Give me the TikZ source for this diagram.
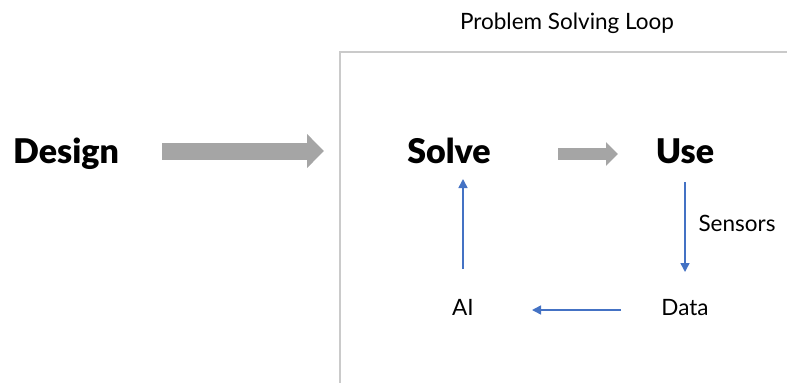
\documentclass[tikz,border=0pt]{standalone}
\usepackage{fontspec}
\setmainfont{Lato}[BoldFont={* Black}]
\usepackage{tikz}
\usetikzlibrary{arrows.meta}
\usepackage{xcolor}
\definecolor{arrowgray}{HTML}{A5A5A5}
\definecolor{loopblue}{HTML}{4472C4}
\definecolor{boxgray}{HTML}{CACACA}

\begin{document}
\begin{tikzpicture}[x=1pt, y=-1pt,
    stage/.style={font=\fontsize{34}{40}\selectfont\bfseries, inner sep=0pt, text height=24pt, text depth=0pt},
    label/.style={font=\fontsize{22.5}{26}\selectfont, inner sep=0pt, text height=15pt, text depth=0pt},
    bigarrow/.style={arrowgray, line width=17pt, -{Triangle[length=17pt, width=33pt]}},
    smallarrow/.style={arrowgray, line width=12pt, -{Triangle[length=12pt, width=23pt]}},
    flow/.style={loopblue, line width=1.5pt, -{Triangle[length=9pt, width=9pt]}}]
  \useasboundingbox (0,0) rectangle (787,383);

  % Draw the loop frame
  \draw[boxgray, line width=2pt] (787,52) -- (340,52) -- (340,383);
  \node (title) at (567,22) [label] {Problem Solving Loop};

  % Place the stages
  \node (design) at (66,151) [stage] {Design};
  \node (solve) at (449,151) [stage] {Solve};
  \node (use) at (685,151) [stage] {Use};

  % Place the loop labels
  \node (ai) at (463,308) [label] {AI};
  \node (data) at (685,308) [label] {Data};
  \node (sensors) at (737,224) [label] {Sensors};

  % Draw the gray arrows
  \draw[bigarrow, shorten <=96pt, shorten >=125pt] (design.center) -- (solve.center);
  \draw[smallarrow, shorten <=109pt, shorten >=67pt] ([yshift=-3pt]solve.center) -- ([yshift=-3pt]use.center);

  % Draw the loop arrows
  \draw[flow, shorten <=31pt, shorten >=36pt] (use.center) -- (use.center |- data.center);
  \draw[flow, shorten <=64pt, shorten >=69pt] ([yshift=-2pt]data.center) -- ([yshift=-2pt]ai.center);
  \draw[flow, shorten <=39pt, shorten >=28pt] (ai.center) -- (ai.center |- solve.center);
\end{tikzpicture}
\end{document}
